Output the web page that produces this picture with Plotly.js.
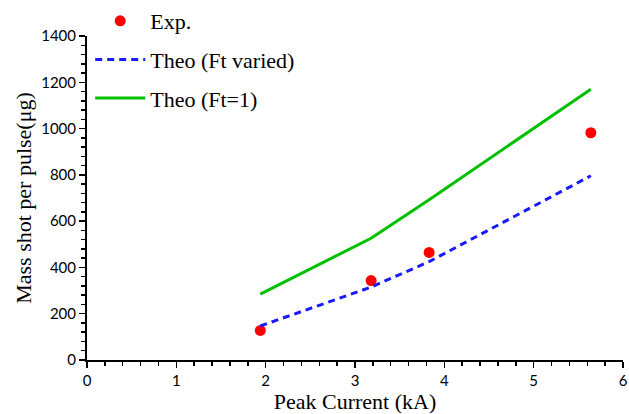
<!DOCTYPE html>
<html>
<head>
<meta charset="utf-8">
<script src="https://cdn.plot.ly/plotly-3.0.1.min.js"></script>
<style>
  html, body { margin: 0; padding: 0; background: #fff; }
  #chart { width: 629px; height: 414px; }
</style>
</head>
<body>
<div id="chart"></div>
<script>
// Peak current (kA) at each shot
const expCurrent = [1.94, 3.18, 3.83, 5.64];
// Measured mass per pulse (µg)
const expMass = [128, 343, 465, 982];

// Theoretical curves evaluated at the same currents
const theoCurrent = [1.94, 3.18, 3.83, 5.64];
const theoFtVaried = [147, 315, 425, 796];
const theoFt1 = [285, 526, 692, 1170];

const serif = 'Liberation Serif, Times New Roman, serif';
const sans = 'Lato, Carlito, Calibri, sans-serif';

const traces = [
  {
    x: expCurrent, y: expMass, name: 'Exp.', type: 'scatter', mode: 'markers',
    marker: { color: '#ff0000', size: 11 }, legendgroup: 'a'
  },
  {
    x: theoCurrent, y: theoFtVaried, name: 'Theo (Ft varied)', type: 'scatter', mode: 'lines',
    line: { color: '#1a1aff', width: 3, dash: '7px,5px' }, legendgroup: 'b'
  },
  {
    x: theoCurrent, y: theoFt1, name: 'Theo (Ft=1)', type: 'scatter', mode: 'lines',
    line: { color: '#00c000', width: 3 }, legendgroup: 'c'
  }
];

// The plot area ends 36px below the top; the legend sits in the strip above it.
const layout = {
  width: 629, height: 414,
  margin: { l: 87, r: 6, t: 0, b: 54 },
  paper_bgcolor: '#fff', plot_bgcolor: '#fff',
  showlegend: true,
  legend: {
    x: 0.006, y: 1.0, xanchor: 'left', yanchor: 'top',
    bgcolor: 'rgba(0,0,0,0)', traceorder: 'grouped', tracegroupgap: 7,
    itemwidth: 50,
    font: { family: serif, size: 22, color: '#000' }
  },
  xaxis: {
    range: [0, 6], dtick: 1, showgrid: false, zeroline: false,
    showline: true, linecolor: '#000', linewidth: 2,
    ticks: 'outside', ticklen: 6, tickwidth: 1.5, tickcolor: '#000',
    minor: { dtick: 0.2, ticks: 'outside', ticklen: 4, tickwidth: 1.5, tickcolor: '#000' },
    tickfont: { family: sans, size: 15, color: '#000' },
    ticklabeloverflow: 'allow',
    title: { text: 'Peak Current (kA)', font: { family: serif, size: 22, color: '#000' }, standoff: 0 }
  },
  yaxis: {
    domain: [0, 0.9],
    range: [0, 1400], dtick: 200, showgrid: false, zeroline: false,
    showline: true, linecolor: '#000', linewidth: 2,
    ticks: 'outside', ticklen: 6, tickwidth: 1.5, tickcolor: '#000',
    minor: { dtick: 40, ticks: 'outside', ticklen: 4, tickwidth: 1.5, tickcolor: '#000' },
    tickfont: { family: sans, size: 15, color: '#000' },
    title: { text: 'Mass shot per pulse(μg)', font: { family: serif, size: 22, color: '#000' }, standoff: 3 }
  }
};

Plotly.newPlot('chart', traces, layout, { displayModeBar: false, staticPlot: true });
</script>
</body>
</html>
